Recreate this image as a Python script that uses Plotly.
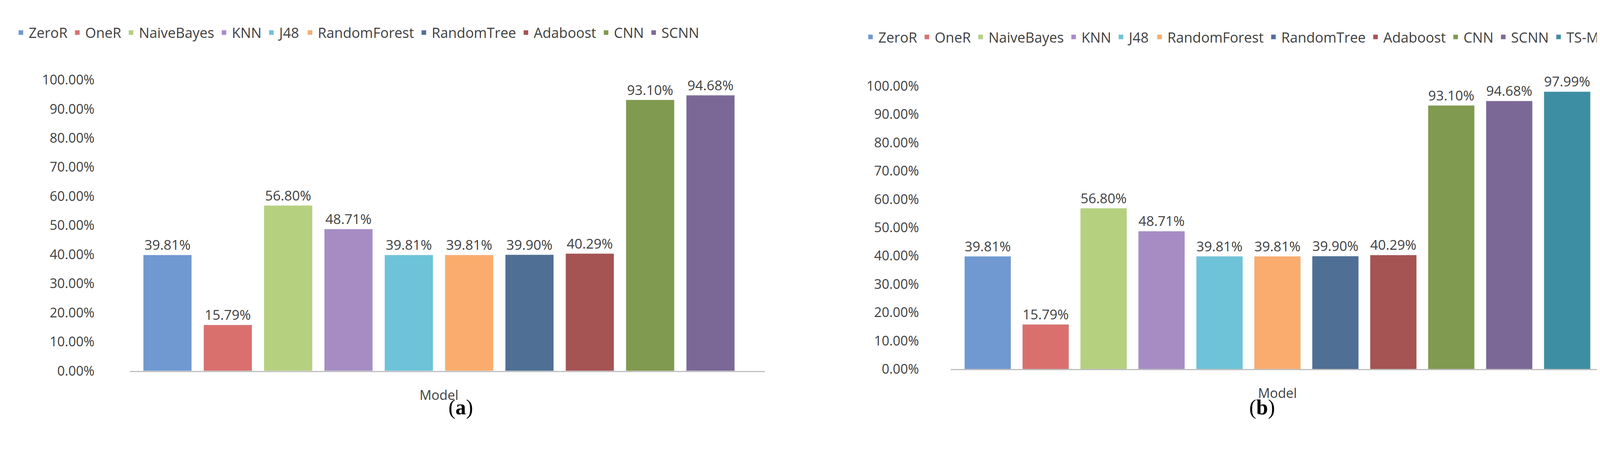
import plotly.graph_objects as go

models_a = ["ZeroR","OneR","NaiveBayes","KNN","J48","RandomForest","RandomTree","Adaboost","CNN","SCNN"]
values_a = [39.81,15.79,56.80,48.71,39.81,39.81,39.90,40.29,93.10,94.68]
models_b = models_a + ["TS-MSCNN"]
values_b = values_a + [97.99]
colors = ["#6f99d0","#d9706e","#b5d07f","#a78cc4","#6ec3d8","#f9ac6d","#4f6f94","#a55353","#809a4f","#7c6897","#3e8ea3"]
yticks = [0,10,20,30,40,50,60,70,80,90,100]

fig = go.Figure()
font = "Open Sans"
for panel, (models, vals, xa, ya, lg) in enumerate([(models_a, values_a, "x", "y", "legend"),
                                                    (models_b, values_b, "x2", "y2", "legend2")]):
    for i, (m, v) in enumerate(zip(models, vals)):
        fig.add_trace(go.Bar(x=[i], y=[v], name=m, width=0.8, marker_color=colors[i],
                             xaxis=xa, yaxis=ya, legend=lg,
                             text=[f"{v:.2f}%"], textposition="outside", cliponaxis=False,
                             textfont=dict(size=35, color="#404040", family=font)))

axcommon = dict(showgrid=False, zeroline=False)
fig.update_layout(
    width=4248, height=1164, margin=dict(l=0, r=0, t=0, b=0),
    paper_bgcolor="white", plot_bgcolor="white", showlegend=True,
    font=dict(family=font, color="#404040"),
    xaxis=dict(domain=[0.0765, 0.459], range=[-0.62, 9.9], tickvals=[4.5], ticktext=["Model"],
               showline=True, linecolor="#bfbfbf", linewidth=3, ticks="", tickfont=dict(size=34),
               ticklabelstandoff=30, **axcommon),
    yaxis=dict(domain=[0.180, 0.846], range=[0, 100], tickvals=yticks,
               ticktext=[f"{t:.2f}%" for t in yticks], tickfont=dict(size=34), anchor="x",
               ticklabelstandoff=90, **axcommon),
    xaxis2=dict(domain=[0.571, 0.9635], range=[-0.64, 10.6], tickvals=[5], ticktext=["Model"],
                showline=True, linecolor="#bfbfbf", linewidth=3, ticks="", tickfont=dict(size=34), anchor="y2",
                ticklabelstandoff=30, **axcommon),
    yaxis2=dict(domain=[0.184, 0.832], range=[0, 100], tickvals=yticks,
                ticktext=[f"{t:.2f}%" for t in yticks], tickfont=dict(size=34), anchor="x2",
                ticklabelstandoff=80, **axcommon),
    legend=dict(orientation="h", x=0.006, y=0.954, yanchor="middle", xanchor="left",
                font=dict(size=36), itemwidth=30, tracegroupgap=0),
    legend2=dict(orientation="h", x=0.518, y=0.944, yanchor="middle", xanchor="left",
                 font=dict(size=36), itemwidth=30, tracegroupgap=0),
    annotations=[
        dict(text="(<b>a</b>)", x=0.268, y=0.068, xref="paper", yref="paper", showarrow=False,
             font=dict(family="Liberation Serif", size=54, color="black")),
        dict(text="(<b>b</b>)", x=0.767, y=0.068, xref="paper", yref="paper", showarrow=False,
             font=dict(family="Liberation Serif", size=54, color="black")),
    ],
)
fig.write_html("out.html")
